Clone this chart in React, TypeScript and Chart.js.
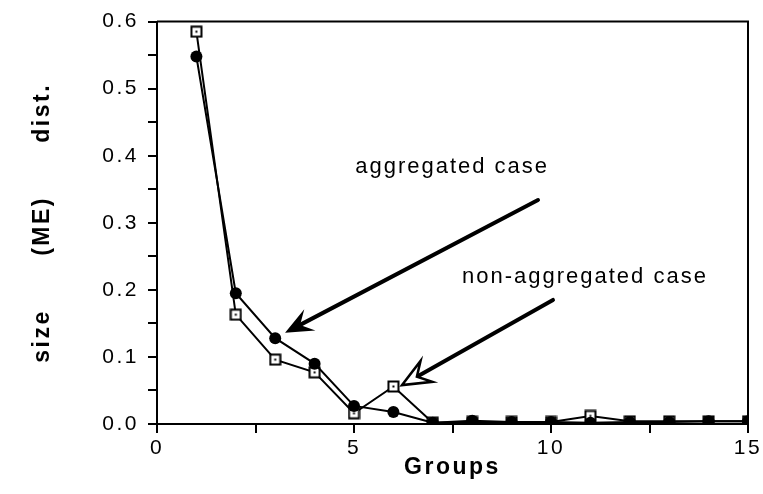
import React, { useEffect, useRef } from 'react';
import { Chart, registerables } from 'chart.js';

Chart.register(...registerables);

// ---- data ----
const groups = [1, 2, 3, 4, 5, 6, 7, 8, 9, 10, 11, 12, 13, 14, 15];
const aggregated = [0.548, 0.195, 0.128, 0.090, 0.027, 0.018, 0.002, 0.005, 0.003, 0.003, 0.002, 0.003, 0.003, 0.004, 0.004];
const nonAggregated = [0.585, 0.163, 0.096, 0.077, 0.016, 0.056, 0.002, 0.003, 0.003, 0.003, 0.012, 0.004, 0.004, 0.004, 0.004];
const xMajorTicks = [0, 5, 10, 15];
const yMajorTicks = [0, 0.1, 0.2, 0.3, 0.4, 0.5, 0.6];
const xTitle = 'Groups';
const yTitle = 'size      (ME)      dist.';
const noteTexts = ['aggregated case', 'non-aggregated case'];
const noteX = [5.03, 7.74];
const noteY = [0.375, 0.21];
const arrowFromX = [9.67, 10.05];
const arrowFromY = [0.334, 0.185];
const arrowToX = [3.25, 6.22];
const arrowToY = [0.136, 0.058];
const arrowOpen = [false, true];

const FONT = '"Liberation Sans", Arial, Helvetica, sans-serif';

function makeSquareMarker(): HTMLCanvasElement {
  const c = document.createElement('canvas');
  c.width = 13;
  c.height = 13;
  const g = c.getContext('2d')!;
  g.fillStyle = '#fff';
  g.fillRect(1, 1, 11, 11);
  g.strokeStyle = '#000';
  g.lineWidth = 2;
  g.strokeRect(1.5, 1.5, 10, 10);
  g.fillStyle = '#000';
  g.fillRect(5.5, 5.5, 2, 2);
  return c;
}

const isMajor = (v: number, list: number[]) => list.some((t) => Math.abs(t - v) < 1e-6);

const framePlugin = {
  id: 'frameAndNotes',
  beforeDraw(chart: any) {
    chart.ctx.letterSpacing = '2.5px';
  },
  afterDraw(chart: any) {
    const { ctx, chartArea, scales } = chart;
    const xs = scales.x;
    const ys = scales.y;
    ctx.save();
    // frame (top and right)
    ctx.strokeStyle = '#000';
    ctx.lineWidth = 2;
    ctx.beginPath();
    ctx.moveTo(chartArea.left, chartArea.top);
    ctx.lineTo(chartArea.right, chartArea.top);
    ctx.lineTo(chartArea.right, chartArea.bottom);
    ctx.stroke();

    // annotations
    ctx.letterSpacing = '2px';
    ctx.font = `22px ${FONT}`;
    ctx.fillStyle = '#000';
    ctx.textAlign = 'left';
    ctx.textBaseline = 'alphabetic';
    noteTexts.forEach((t, i) => {
      ctx.fillText(t, xs.getPixelForValue(noteX[i]), ys.getPixelForValue(noteY[i]));
    });

    // arrows
    for (let i = 0; i < arrowFromX.length; i++) {
      const x0 = xs.getPixelForValue(arrowFromX[i]);
      const y0 = ys.getPixelForValue(arrowFromY[i]);
      const x1 = xs.getPixelForValue(arrowToX[i]);
      const y1 = ys.getPixelForValue(arrowToY[i]);
      const ang = Math.atan2(y1 - y0, x1 - x0);
      const ux = Math.cos(ang);
      const uy = Math.sin(ang);
      const px = -uy;
      const py = ux;
      const L = 28;
      const W = 12;
      const N = 17;
      const bx = x1 - ux * L;
      const by = y1 - uy * L;
      const nx = x1 - ux * N;
      const ny = y1 - uy * N;
      ctx.lineWidth = 4;
      ctx.lineCap = 'round';
      ctx.beginPath();
      ctx.moveTo(x0, y0);
      ctx.lineTo(nx, ny);
      ctx.stroke();
      ctx.beginPath();
      ctx.moveTo(x1, y1);
      ctx.lineTo(bx + px * W, by + py * W);
      ctx.lineTo(nx, ny);
      ctx.lineTo(bx - px * W, by - py * W);
      ctx.closePath();
      if (arrowOpen[i]) {
        ctx.fillStyle = '#fff';
        ctx.fill();
        ctx.lineWidth = 2.5;
        ctx.lineJoin = 'miter';
        ctx.stroke();
      } else {
        ctx.fillStyle = '#000';
        ctx.fill();
      }
    }
    ctx.restore();
  },
};

export default function App() {
  const ref = useRef<HTMLCanvasElement | null>(null);

  useEffect(() => {
    document.body.style.margin = '0';
    const square = makeSquareMarker();
    const chart = new Chart(ref.current!, {
      type: 'line',
      data: {
        datasets: [
          {
            label: 'aggregated case',
            data: groups.map((g, i) => ({ x: g, y: aggregated[i] })),
            borderColor: '#000',
            backgroundColor: '#000',
            borderWidth: 2,
            pointStyle: 'circle',
            pointRadius: 6,
            pointBorderWidth: 0,
            pointBackgroundColor: '#000',
            tension: 0,
          },
          {
            label: 'non-aggregated case',
            data: groups.map((g, i) => ({ x: g, y: nonAggregated[i] })),
            borderColor: '#000',
            backgroundColor: '#fff',
            borderWidth: 2,
            pointStyle: square as any,
            pointRadius: 6,
            tension: 0,
          },
        ],
      },
      options: {
        animation: false,
        responsive: true,
        maintainAspectRatio: false,
        layout: { padding: { top: 18, right: 15, left: 0, bottom: 0 } },
        plugins: { legend: { display: false }, tooltip: { enabled: false } },
        scales: {
          x: {
            type: 'linear',
            min: 0,
            max: 15,
            afterFit: (s: any) => {
              s.height = 70;
            },
            ticks: {
              stepSize: 2.5,
              autoSkip: false,
              maxRotation: 0,
              color: '#000',
              font: { family: FONT, size: 21 },
              padding: 3,
              callback: (v: any) => (isMajor(Number(v), xMajorTicks) ? String(v) : ''),
            },
            grid: {
              display: true,
              drawOnChartArea: false,
              drawTicks: true,
              tickLength: 9,
              color: '#000',
              lineWidth: 2,
            },
            border: { display: true, color: '#000', width: 2 },
            title: {
              display: true,
              text: xTitle,
              color: '#000',
              font: { family: FONT, size: 23, weight: 'bold' },
              padding: { top: 0, bottom: 13 },
            },
          },
          y: {
            type: 'linear',
            min: 0,
            max: 0.6,
            afterFit: (s: any) => {
              s.width = 157;
            },
            ticks: {
              stepSize: 0.05,
              autoSkip: false,
              color: '#000',
              font: { family: FONT, size: 21 },
              padding: 9,
              callback: (v: any) => (isMajor(Number(v), yMajorTicks) ? Number(v).toFixed(1) : ''),
            },
            grid: {
              display: true,
              drawOnChartArea: false,
              drawTicks: true,
              tickLength: 9,
              color: '#000',
              lineWidth: 2,
            },
            border: { display: true, color: '#000', width: 2 },
            title: {
              display: true,
              text: yTitle,
              color: '#000',
              font: { family: FONT, size: 23, weight: 'bold' },
              padding: { top: 29, bottom: 0 },
            },
          },
        },
      },
      plugins: [framePlugin],
    });
    return () => chart.destroy();
  }, []);

  return (
    <div style={{ position: 'fixed', left: 0, top: 0, width: 763, height: 494, background: '#fff' }}>
      <canvas ref={ref} />
    </div>
  );
}
